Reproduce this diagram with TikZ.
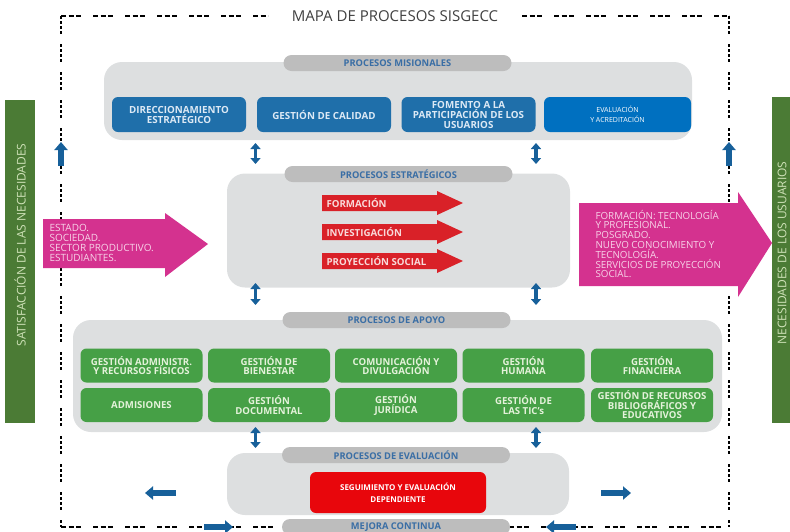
\documentclass[tikz,border=0pt]{standalone}
\usepackage{fontspec}
\setmainfont{Open Sans}
\usetikzlibrary{arrows.meta}
\definecolor{panelgray}{HTML}{DDDFE0}
\definecolor{tabgray}{HTML}{BDBDBD}
\definecolor{tabtext}{HTML}{3A6EA5}
\definecolor{misblue}{HTML}{1F6FAA}
\definecolor{acrblue}{HTML}{0070C0}
\definecolor{boxtext}{HTML}{DCE9F5}
\definecolor{arrblue}{HTML}{17609A}
\definecolor{apogreen}{HTML}{46A046}
\definecolor{apotext}{HTML}{E4F2DA}
\definecolor{sidegreen}{HTML}{4B7B35}
\definecolor{sidetext}{HTML}{CFE2B8}
\definecolor{estred}{HTML}{D92128}
\definecolor{esttext}{HTML}{F8DADA}
\definecolor{mapmagenta}{HTML}{D4328F}
\definecolor{magtext}{HTML}{F7D3E8}
\definecolor{evalred}{HTML}{E8060C}
\definecolor{titlegray}{HTML}{404040}
\begin{document}
\begin{tikzpicture}[x=1pt,y=-1pt,
  panel/.style={fill=panelgray, rounded corners=18pt, inner sep=0pt},
  tab/.style={fill=tabgray, rounded corners=8pt, minimum width=228pt, minimum height=16pt, inner sep=0pt, text=tabtext, font=\bfseries\fontsize{9.3}{10}\selectfont},
  misbox/.style={fill=misblue, rounded corners=6pt, minimum width=134pt, minimum height=35pt, inner sep=0pt, align=center, text=boxtext, font=\bfseries\fontsize{9.8}{10}\selectfont},
  apobox/.style={fill=apogreen, rounded corners=6pt, minimum width=122pt, minimum height=34pt, inner sep=0pt, align=center, text=apotext, font=\bfseries\fontsize{9.6}{9.5}\selectfont},
  sidetxt/.style={rotate=90, text=sidetext, font=\fontsize{12}{13}\selectfont},
  dblarrow/.style={arrblue, line width=3.5pt, {Triangle[width=10pt,length=6pt]}-{Triangle[width=10pt,length=6pt]}},
  fatarrow/.style={arrblue, line width=6pt, -{Triangle[width=13pt,length=8pt]}},
  frameh/.style={line width=1.6pt, dash pattern=on 5pt off 2.5pt on 5pt off 2.5pt on 5pt off 12pt},
  framev/.style={line width=1.6pt, dash pattern=on 3pt off 2pt on 3pt off 2pt on 3pt off 2pt on 3pt off 10pt}]
\useasboundingbox (0,0) rectangle (790,531);
\coordinate (ftl) at (61,16);
\coordinate (ftm) at (268,16);
\coordinate (ftn) at (522,16);
\coordinate (ftr) at (729,16);
\coordinate (fbl) at (61,527);
\coordinate (fbr) at (729,527);
\draw[frameh] (ftl) -- (ftm);
\draw[frameh] (ftn) -- (ftr);
\draw[frameh] (fbl) -- (fbr);
\draw[framev] (ftl) -- (fbl);
\draw[framev] (ftr) -- (fbr);
\node[text=titlegray, font=\fontsize{15}{16}\selectfont] (title) at (395,16) {MAPA DE PROCESOS SISGECC};
\fill[sidegreen] (5,100) rectangle (35,423);
\node[sidetxt] (satis) at (20,245) {SATISFACCIÓN DE LAS NECESIDADES};
\fill[sidegreen] (772,97) rectangle (800,423);
\node[sidetxt] (neces) at (782,253) {NECESIDADES DE LOS USUARIOS};
\node[panel, minimum width=588pt, minimum height=78pt] (mis) at (398,101) {};
\node[tab] (mistab) at (397.5,63) {PROCESOS MISIONALES};
\node[misbox] (dir) at (179,114.5) {DIRECCIONAMIENTO\\ESTRATÉGICO};
\node[misbox] (cal) at (324,114.5) {GESTIÓN DE CALIDAD};
\node[misbox] (fom) at (468.5,114.5) {FOMENTO A LA\\PARTICIPACIÓN DE LOS\\USUARIOS};
\node[misbox, fill=acrblue, minimum width=147pt, text=white, font=\fontsize{7}{10}\selectfont] (acr) at (617.5,114.5) {EVALUACIÓN\\Y ACREDITACIÓN};
\node[panel, minimum width=343pt, minimum height=114pt] (est) at (398.5,230.5) {};
\node[tab] (esttab) at (398.5,174) {PROCESOS ESTRATÉGICOS};
\foreach \n/\y/\t in {for/203/FORMACIÓN, inv/232/INVESTIGACIÓN, pro/261/PROYECCIÓN SOCIAL} {
  \fill[estred] (322,\y-8) -- (437,\y-8) -- (437,\y-12) -- (463,\y) -- (437,\y+12) -- (437,\y+8) -- (322,\y+8) -- cycle;
  \node[anchor=west, text=esttext, font=\bfseries\fontsize{9.7}{10}\selectfont] (\n) at (323,\y) {\t};
}
\node[panel, minimum width=649pt, minimum height=112pt] (apo) at (397.5,376) {};
\node[tab] (apotab) at (396.5,320) {PROCESOS DE APOYO};
\node[apobox] (adm) at (141.5,365.5) {GESTIÓN ADMINISTR.\\Y RECURSOS FÍSICOS};
\node[apobox] (bie) at (269,365.5) {GESTIÓN DE\\BIENESTAR};
\node[apobox] (com) at (396,365.5) {COMUNICACIÓN Y\\DIVULGACIÓN};
\node[apobox] (hum) at (523.5,365.5) {GESTIÓN\\HUMANA};
\node[apobox] (fin) at (652,365.5) {GESTIÓN\\FINANCIERA};
\node[apobox] (adi) at (141.5,405) {ADMISIONES};
\node[apobox] (doc) at (269,405) {GESTIÓN\\DOCUMENTAL};
\node[apobox] (jur) at (396,405) {GESTIÓN\\JURÍDICA};
\node[apobox] (tic) at (523.5,405) {GESTIÓN DE\\LAS TIC's};
\node[apobox] (bib) at (652,405) {GESTIÓN DE RECURSOS\\BIBLIOGRÁFICOS Y\\EDUCATIVOS};
\node[panel, minimum width=342pt, minimum height=62pt] (eva) at (398,484) {};
\node[tab] (evatab) at (396,455) {PROCESOS DE EVALUACIÓN};
\node[fill=evalred, rounded corners=6pt, minimum width=176pt, minimum height=41pt, align=center, text=white, font=\bfseries\fontsize{8}{12}\selectfont] (seg) at (398,492.5) {SEGUIMIENTO Y EVALUACIÓN\\DEPENDIENTE};
\node[tab] (mejtab) at (396,527) {MEJORA CONTINUA};
\fill[mapmagenta] (43,219) -- (165,219) -- (165,213) -- (208,244) -- (165,277) -- (165,268) -- (43,268) -- cycle;
\node[anchor=west, align=left, text=magtext, font=\fontsize{10}{10}\selectfont] (entra) at (46,243) {ESTADO.\\SOCIEDAD.\\SECTOR PRODUCTIVO.\\ESTUDIANTES.};
\fill[mapmagenta] (579,203) -- (738,203) -- (738,192) -- (772,243) -- (738,297) -- (738,286) -- (579,286) -- cycle;
\node[anchor=west, align=left, text=magtext, font=\fontsize{9.8}{9.8}\selectfont] (sale) at (592,244) {FORMACIÓN: TECNOLOGÍA\\Y PROFESIONAL.\\POSGRADO.\\NUEVO CONOCIMIENTO Y\\TECNOLOGÍA.\\SERVICIOS DE PROYECCIÓN\\SOCIAL.};
\foreach \x/\k in {255.5/l,536/r} {
  \coordinate (d1a\k) at (\x,143);
  \coordinate (d1b\k) at (\x,164);
  \coordinate (d2a\k) at (\x,283);
  \coordinate (d2b\k) at (\x,305);
  \coordinate (d3a\k) at (\x,427);
  \coordinate (d3b\k) at (\x,448);
  \draw[dblarrow] (d1a\k) -- (d1b\k);
  \draw[dblarrow] (d2a\k) -- (d2b\k);
  \draw[dblarrow] (d3a\k) -- (d3b\k);
}
\coordinate (upla) at (61,166);
\coordinate (uplb) at (61,142);
\coordinate (upra) at (729,166);
\coordinate (uprb) at (729,142);
\draw[fatarrow] (upla) -- (uplb);
\draw[fatarrow] (upra) -- (uprb);
\coordinate (hla) at (176,493);
\coordinate (hlb) at (145,493);
\coordinate (hra) at (601,493);
\coordinate (hrb) at (631,493);
\draw[fatarrow] (hla) -- (hlb);
\draw[fatarrow] (hra) -- (hrb);
\coordinate (bla) at (204,527);
\coordinate (blb) at (233,527);
\coordinate (bra) at (576,527);
\coordinate (brb) at (546,527);
\draw[fatarrow] (bla) -- (blb);
\draw[fatarrow] (bra) -- (brb);
\end{tikzpicture}
\end{document}
